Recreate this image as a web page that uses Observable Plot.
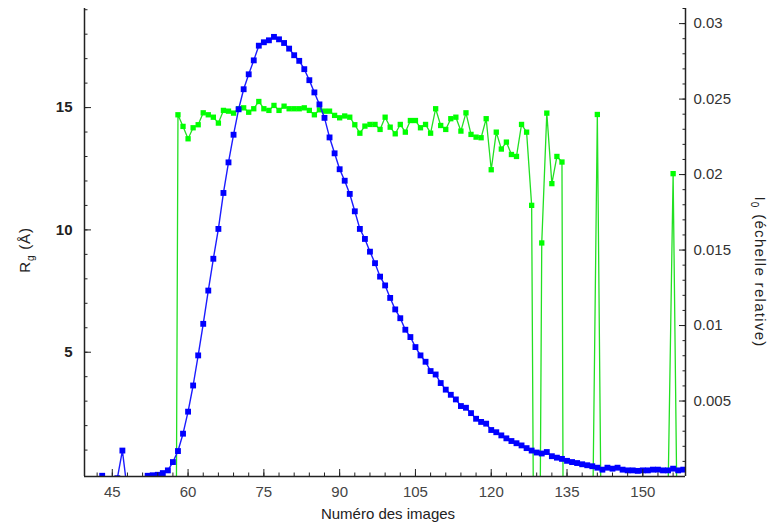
<!DOCTYPE html>
<html><head><meta charset="utf-8">
<script src="https://cdn.jsdelivr.net/npm/d3@7"></script>
<script src="https://cdn.jsdelivr.net/npm/@observablehq/plot@0.6"></script>
<style>body{margin:0;background:#fff;}</style>
</head><body><div id="chart"></div>
<script>
// Rg (left axis, Å) per image number
const rgImages = d3.range(43, 159);
const rgValues = [
  -0.05, -0.6, -0.6, -0.15, 0.98, -0.7, -0.6, -0.6, -0.3, -0.05, // 43-52
  -0.03, -0.01, 0.06, 0.17, 0.51, 0.96, 1.67, 2.57, 3.64, 4.87,   // 53-62
  6.16, 7.52, 8.82, 10.04, 11.51, 12.76, 13.89, 14.93, 15.75, 16.36, // 63-72
  16.93, 17.53, 17.67, 17.75, 17.89, 17.79, 17.64, 17.41, 17.14, 16.91, // 73-82
  16.57, 16.12, 15.62, 15.13, 14.58, 13.78, 13.13, 12.48, 12.01, 11.47, // 83-92
  10.76, 10.04, 9.63, 9.11, 8.64, 8.09, 7.73, 7.22, 6.75, 6.39,   // 93-102
  5.92, 5.62, 5.21, 4.87, 4.61, 4.23, 4.09, 3.74, 3.47, 3.26,     // 103-112
  3.07, 2.80, 2.73, 2.51, 2.28, 2.15, 2.08, 1.82, 1.73, 1.60,     // 113-122
  1.48, 1.37, 1.28, 1.19, 1.08, 0.98, 0.90, 0.86, 0.92, 0.75,     // 123-132
  0.69, 0.64, 0.56, 0.51, 0.47, 0.42, 0.38, 0.34, 0.28, 0.20,     // 133-142
  0.28, 0.24, 0.28, 0.20, 0.17, 0.17, 0.15, 0.17, 0.17, 0.20,     // 143-152
  0.20, 0.17, 0.17, 0.24, 0.17, 0.20                              // 153-158
];
// I0 (right axis, relative scale) per image number
const i0Images = d3.range(57, 159);
const i0Values = [
  -0.056, 0.02396, 0.02319, 0.02237, 0.02310, 0.02330, 0.02409, 0.02396, 0.02380, 0.02341, // 57-66
  0.02425, 0.02420, 0.02407, 0.02436, 0.02442, 0.02413, 0.02436, 0.02484, 0.02436, 0.02425, // 67-76
  0.02458, 0.02425, 0.02453, 0.02436, 0.02436, 0.02436, 0.02442, 0.02425, 0.02396, 0.02429, // 77-86
  0.02420, 0.02420, 0.02392, 0.02376, 0.02388, 0.02380, 0.02330, 0.02274, 0.02321, 0.02332, // 87-96
  0.02332, 0.02299, 0.02380, 0.02314, 0.02270, 0.02332, 0.02281, 0.02358, 0.02358, 0.02310, // 97-106
  0.02332, 0.02274, 0.02436, 0.02325, 0.02299, 0.02370, 0.02380, 0.02288, 0.02409, 0.02266, // 107-116
  0.02248, 0.02244, 0.02370, 0.02032, 0.02281, 0.02169, 0.02215, 0.02133, 0.02120, 0.02332, // 117-126
  0.02281, 0.01796, -0.04, 0.01547, 0.02407, 0.01940, 0.02120, 0.02083, -0.08, -0.08,       // 127-136
  -0.08, -0.08, -0.08, -0.005, 0.02398, -0.012, -0.08, -0.08, -0.08, -0.08,                 // 137-146
  -0.08, -0.08, -0.08, -0.08, -0.08, -0.08, -0.08, -0.05, -0.001, 0.02006,                  // 147-156
  -0.009, -0.08                                                                             // 157-158
];
const xTicks = [45, 60, 75, 90, 105, 120, 135, 150];
const xTickLabels = ["45", "60", "75", "90", "105", "120", "135", "150"];
const xMinor = d3.range(42, 158, 3);
const yTicks = [5, 10, 15];
const yTickLabels = ["5", "10", "15"];
const yMinor = d3.range(1, 20);
const y2Ticks = [0.005, 0.01, 0.015, 0.02, 0.025, 0.03];
const y2TickLabels = ["0.005", "0.01", "0.015", "0.02", "0.025", "0.03"];
const y2Minor = d3.range(1, 32).map(i => i / 1000);

const rg = rgImages.map((n, i) => ({n, v: rgValues[i]}));
const i0 = i0Images.map((n, i) => ({n, v: i0Values[i]}));

const xDomain = [39.5, 158.45];
const yDomain = [-0.08, 19.05];
const y2 = d3.scaleLinear([0, 0.031], yDomain);
const axisColor = "#222";

const chart = Plot.plot({
  width: 774, height: 527,
  marginLeft: 84, marginRight: 89, marginTop: 8, marginBottom: 51,
  style: {fontFamily: "'Liberation Sans', Arial, sans-serif", fontSize: "15px", background: "#fff", color: axisColor},
  x: {domain: xDomain},
  y: {domain: yDomain},
  marks: [
    Plot.line(i0, {x: "n", y: d => y2(d.v), stroke: "#22e022", strokeWidth: 1.3, clip: true}),
    Plot.dot(i0, {x: "n", y: d => y2(d.v), symbol: "square", r: 3, fill: "#00ff00", clip: true}),
    Plot.line(rg, {x: "n", y: "v", stroke: "#1c1cff", strokeWidth: 1.4, clip: true}),
    Plot.dot(rg, {x: "n", y: "v", symbol: "square", r: 3.3, fill: "#0000ff", clip: true}),
    Plot.ruleY([yDomain[0]], {stroke: axisColor, strokeWidth: 1.5}),
    Plot.ruleX(xDomain, {stroke: axisColor, strokeWidth: 1.5}),
    // x axis
    Plot.axisX(xTicks, {anchor: "bottom", tickSize: -7, fill: "none", label: null}),
    Plot.axisX(xMinor, {anchor: "bottom", tickSize: -3.5, fill: "none", label: null}),
    Plot.axisX(xTicks, {anchor: "bottom", tickSize: 0, tickPadding: 10, fill: "#444", label: null,
      tickFormat: d => xTickLabels[xTicks.indexOf(d)]}),
    // left y axis
    Plot.axisY(yTicks, {anchor: "left", tickSize: -7, fill: "none", label: null}),
    Plot.axisY(yMinor, {anchor: "left", tickSize: -3.5, fill: "none", label: null}),
    Plot.axisY(yTicks, {anchor: "left", tickSize: 0, tickPadding: 12, fill: "#222", fontWeight: "bold", label: null,
      tickFormat: d => yTickLabels[yTicks.indexOf(d)]}),
    // right y axis
    Plot.axisY(y2Ticks, {anchor: "right", y: y2, tickSize: -7, fill: "none", label: null}),
    Plot.axisY(y2Minor, {anchor: "right", y: y2, tickSize: -3.5, fill: "none", label: null}),
    Plot.axisY(y2Ticks, {anchor: "right", y: y2, tickSize: 0, tickPadding: 8, fill: "#333", label: null,
      tickFormat: d => y2TickLabels[y2Ticks.indexOf(d)]})
  ]
});
document.getElementById("chart").appendChild(chart);

const svg = d3.select(chart);
const font = "'Liberation Sans', Arial, sans-serif";
// x title
svg.append("text").attr("x", 388).attr("y", 519).attr("text-anchor", "middle")
  .attr("font-family", font).attr("font-size", 15).attr("fill", "#222").text("Numéro des images");
// left title
const lt = svg.append("text").attr("transform", "translate(30,250) rotate(-90)").attr("text-anchor", "middle")
  .attr("font-family", font).attr("font-size", 15).attr("fill", "#222").attr("letter-spacing", "0.8px");
lt.append("tspan").text("R");
lt.append("tspan").attr("font-size", 10).attr("dy", 4).text("g");
lt.append("tspan").attr("dy", -4).text(" (Å)");
// right title
const rt = svg.append("text").attr("transform", "translate(755,272) rotate(90)").attr("text-anchor", "middle")
  .attr("font-family", font).attr("font-size", 15).attr("fill", "#222").attr("letter-spacing", "1.3px");
rt.append("tspan").text("I");
rt.append("tspan").attr("font-size", 10).attr("dy", 4).text("0");
rt.append("tspan").attr("dy", -4).text(" (échelle relative)");
</script>
</body></html>
